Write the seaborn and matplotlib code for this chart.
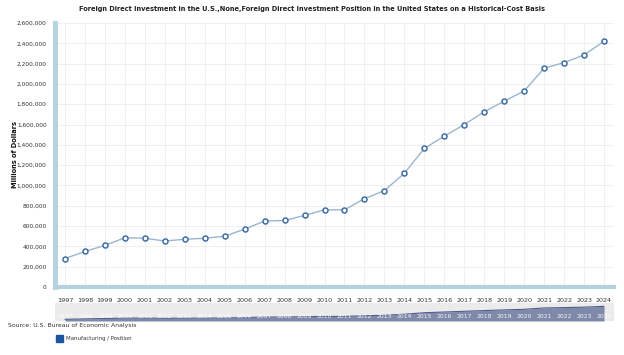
import numpy as np
import pandas as pd
import seaborn as sns
import matplotlib.pyplot as plt
from matplotlib.patches import Rectangle

years = list(range(1997, 2025))
position = [280000, 350000, 410000, 485000, 480000, 453000, 470000, 480000,
            500000, 570000, 650000, 655000, 705000, 760000, 760000, 870000,
            950000, 1120000, 1365000, 1485000, 1600000, 1725000, 1830000,
            1930000, 2155000, 2210000, 2285000, 2420000]
y_ticks = list(range(0, 2600001, 200000))

df = pd.DataFrame({"year": years, "value": position})

sns.set_style("white")
plt.rcParams["font.family"] = ["DejaVu Sans"]

W, H = 624, 355
fig = plt.figure(figsize=(W / 100, H / 100), dpi=100)

# main plot area (pixel coords -> figure fractions)
x0, x1, y_top, y_bot = 55, 614, 23, 287
ax = fig.add_axes([x0 / W, 1 - y_bot / H, (x1 - x0) / W, (y_bot - y_top) / H])

sns.lineplot(data=df, x="year", y="value", ax=ax, color="#9ab6cf", linewidth=1.0,
             marker="o", markersize=3.6, markerfacecolor="white",
             markeredgecolor="#3f6fa3", markeredgewidth=1.1)

ax.set_xlim(1996.5, 2024.5)
ax.set_ylim(0, 2600000)
ax.set_yticks(y_ticks)
ax.set_yticklabels([f"{v:,}" for v in y_ticks], fontsize=4.2, color="#333333")
ax.set_xticks(years)
ax.set_xticklabels([str(y) for y in years], fontsize=4.6, color="#333333")
ax.tick_params(axis="both", length=0, pad=6)
ax.tick_params(axis="x", pad=8)
ax.grid(True, color="#eeeeee", linewidth=0.6)
ax.set_axisbelow(True)
for s in ["top", "right"]:
    ax.spines[s].set_visible(False)
ax.spines["left"].set_color("#b3d4de")
ax.spines["left"].set_linewidth(3.5)
ax.spines["bottom"].set_color("#b3d4de")
ax.spines["bottom"].set_linewidth(3.0)
ax.set_xlabel("")
ax.set_ylabel("")
fig.text(15 / W, 1 - 155 / H, "Millions of Dollars", rotation=90,
         ha="center", va="center", fontsize=4.8, fontweight="bold", color="#111111")

fig.text(0.5, 1 - 9 / H, "Foreign Direct Investment in the U.S.,None,Foreign Direct Investment Position in the United States on a Historical-Cost Basis",
         ha="center", va="center", fontsize=4.8, fontweight="bold", color="#222222")

# navigator strip
nav = fig.add_axes([x0 / W, 1 - 321 / H, (x1 - x0) / W, 18 / H])
nav.set_facecolor("#ebebeb")
nav.fill_between(years, 0, position, color="#7f89aa", linewidth=0)
nav.plot(years, position, color="#4f5d8c", linewidth=0.8)
nav.set_xlim(1996.5, 2024.5)
nav.set_ylim(0, 2970000)
nav.set_xticks([])
nav.set_yticks([])
for s in nav.spines.values():
    s.set_visible(False)
for yr in years:
    nav.text(yr, 820000, str(yr), ha="center", va="center", fontsize=4.4,
             color="white", alpha=0.9)

fig.text(8 / W, 1 - 326 / H, "Source: U.S. Bureau of Economic Analysis",
         ha="left", va="center", fontsize=4.4, color="#333333")
fig.patches.append(Rectangle((56 / W, 1 - 342 / H), 7 / W, 7 / H,
                             transform=fig.transFigure, color="#1a56a0"))
fig.text(66 / W, 1 - 338.5 / H, "Manufacturing / Position",
         ha="left", va="center", fontsize=3.9, color="#333333")

fig.savefig("out.png", dpi=100)
